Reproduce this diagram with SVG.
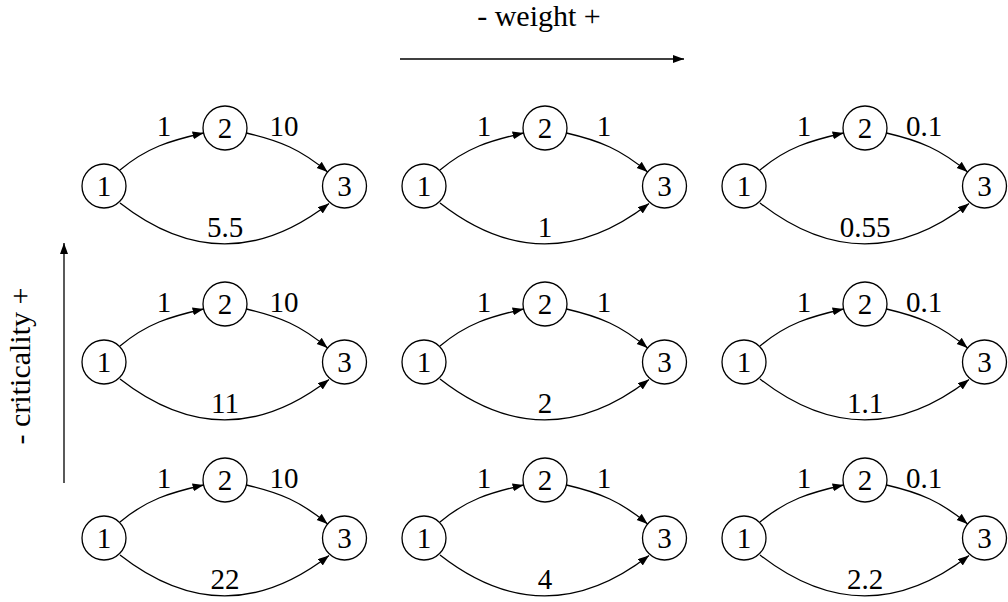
<svg xmlns="http://www.w3.org/2000/svg" width="1008" height="602" viewBox="0 0 1008 602">
<style>
text{font-size:29px;fill:#000;text-anchor:middle}
.ax{font-size:30px}
.node circle{fill:#fff;stroke:#000;stroke-width:1.3}
.edge{fill:none;stroke:#000;stroke-width:1.3;marker-end:url(#arr)}
.axis{fill:none;stroke:#000;stroke-width:1.3;marker-end:url(#arr)}
</style>
<defs>
<marker id="arr" markerUnits="userSpaceOnUse" markerWidth="12" markerHeight="9" refX="11" refY="4" orient="auto">
<path d="M0,0 L11,4 L0,8 z" fill="#000"/>
</marker>
</defs>
<rect width="1008" height="602" fill="#fff"/>
<g font-family="Liberation Serif, DejaVu Serif, serif">
<g id="axes">
<text class="ax" x="539" y="26">- weight +</text>
<path class="axis" d="M400,59 L684,59"/>
<text class="ax" transform="translate(30,366) rotate(-90)">- criticality +</text>
<path class="axis" d="M64,483 L64,243"/>
</g>
<g id="connectors">
<g transform="translate(104,186)"><path class="edge" d="M16,-16 C42.8,-38.5 65.5,-45.2 99.6,-53"/><path class="edge" d="M142.4,-53 C176.5,-45.1 196.8,-36.6 223.6,-14.1"/><path class="edge" d="M16,17 C86,71.7 155,71.7 225,17.5"/></g>
<g transform="translate(424,186)"><path class="edge" d="M16,-16 C42.8,-38.5 65.5,-45.2 99.6,-53"/><path class="edge" d="M142.4,-53 C176.5,-45.1 196.8,-36.6 223.6,-14.1"/><path class="edge" d="M16,17 C86,71.7 155,71.7 225,17.5"/></g>
<g transform="translate(744,186)"><path class="edge" d="M16,-16 C42.8,-38.5 65.5,-45.2 99.6,-53"/><path class="edge" d="M142.4,-53 C176.5,-45.1 196.8,-36.6 223.6,-14.1"/><path class="edge" d="M16,17 C86,71.7 155,71.7 225,17.5"/></g>
<g transform="translate(104,362)"><path class="edge" d="M16,-16 C42.8,-38.5 65.5,-45.2 99.6,-53"/><path class="edge" d="M142.4,-53 C176.5,-45.1 196.8,-36.6 223.6,-14.1"/><path class="edge" d="M16,17 C86,71.7 155,71.7 225,17.5"/></g>
<g transform="translate(424,362)"><path class="edge" d="M16,-16 C42.8,-38.5 65.5,-45.2 99.6,-53"/><path class="edge" d="M142.4,-53 C176.5,-45.1 196.8,-36.6 223.6,-14.1"/><path class="edge" d="M16,17 C86,71.7 155,71.7 225,17.5"/></g>
<g transform="translate(744,362)"><path class="edge" d="M16,-16 C42.8,-38.5 65.5,-45.2 99.6,-53"/><path class="edge" d="M142.4,-53 C176.5,-45.1 196.8,-36.6 223.6,-14.1"/><path class="edge" d="M16,17 C86,71.7 155,71.7 225,17.5"/></g>
<g transform="translate(104,538)"><path class="edge" d="M16,-16 C42.8,-38.5 65.5,-45.2 99.6,-53"/><path class="edge" d="M142.4,-53 C176.5,-45.1 196.8,-36.6 223.6,-14.1"/><path class="edge" d="M16,17 C86,71.7 155,71.7 225,17.5"/></g>
<g transform="translate(424,538)"><path class="edge" d="M16,-16 C42.8,-38.5 65.5,-45.2 99.6,-53"/><path class="edge" d="M142.4,-53 C176.5,-45.1 196.8,-36.6 223.6,-14.1"/><path class="edge" d="M16,17 C86,71.7 155,71.7 225,17.5"/></g>
<g transform="translate(744,538)"><path class="edge" d="M16,-16 C42.8,-38.5 65.5,-45.2 99.6,-53"/><path class="edge" d="M142.4,-53 C176.5,-45.1 196.8,-36.6 223.6,-14.1"/><path class="edge" d="M16,17 C86,71.7 155,71.7 225,17.5"/></g>
</g>
<g id="edge-labels">
<g transform="translate(104,186)"><text x="60" y="-50">1</text><text x="180" y="-50">10</text><text x="121" y="51">5.5</text></g>
<g transform="translate(424,186)"><text x="60" y="-50">1</text><text x="180" y="-50">1</text><text x="121" y="51">1</text></g>
<g transform="translate(744,186)"><text x="60" y="-50">1</text><text x="180" y="-50">0.1</text><text x="121" y="51">0.55</text></g>
<g transform="translate(104,362)"><text x="60" y="-50">1</text><text x="180" y="-50">10</text><text x="121" y="51">11</text></g>
<g transform="translate(424,362)"><text x="60" y="-50">1</text><text x="180" y="-50">1</text><text x="121" y="51">2</text></g>
<g transform="translate(744,362)"><text x="60" y="-50">1</text><text x="180" y="-50">0.1</text><text x="121" y="51">1.1</text></g>
<g transform="translate(104,538)"><text x="60" y="-50">1</text><text x="180" y="-50">10</text><text x="121" y="51">22</text></g>
<g transform="translate(424,538)"><text x="60" y="-50">1</text><text x="180" y="-50">1</text><text x="121" y="51">4</text></g>
<g transform="translate(744,538)"><text x="60" y="-50">1</text><text x="180" y="-50">0.1</text><text x="121" y="51">2.2</text></g>
</g>
<g id="nodes">
<g id="r1c1-n1" class="node"><circle cx="104" cy="186" r="22"/><text x="104" y="196">1</text></g>
<g id="r1c1-n2" class="node"><circle cx="225" cy="128" r="22"/><text x="225" y="138">2</text></g>
<g id="r1c1-n3" class="node"><circle cx="344.5" cy="186" r="22"/><text x="344.5" y="196">3</text></g>
<g id="r1c2-n1" class="node"><circle cx="424" cy="186" r="22"/><text x="424" y="196">1</text></g>
<g id="r1c2-n2" class="node"><circle cx="545" cy="128" r="22"/><text x="545" y="138">2</text></g>
<g id="r1c2-n3" class="node"><circle cx="664.5" cy="186" r="22"/><text x="664.5" y="196">3</text></g>
<g id="r1c3-n1" class="node"><circle cx="744" cy="186" r="22"/><text x="744" y="196">1</text></g>
<g id="r1c3-n2" class="node"><circle cx="865" cy="128" r="22"/><text x="865" y="138">2</text></g>
<g id="r1c3-n3" class="node"><circle cx="984.5" cy="186" r="22"/><text x="984.5" y="196">3</text></g>
<g id="r2c1-n1" class="node"><circle cx="104" cy="362" r="22"/><text x="104" y="372">1</text></g>
<g id="r2c1-n2" class="node"><circle cx="225" cy="304" r="22"/><text x="225" y="314">2</text></g>
<g id="r2c1-n3" class="node"><circle cx="344.5" cy="362" r="22"/><text x="344.5" y="372">3</text></g>
<g id="r2c2-n1" class="node"><circle cx="424" cy="362" r="22"/><text x="424" y="372">1</text></g>
<g id="r2c2-n2" class="node"><circle cx="545" cy="304" r="22"/><text x="545" y="314">2</text></g>
<g id="r2c2-n3" class="node"><circle cx="664.5" cy="362" r="22"/><text x="664.5" y="372">3</text></g>
<g id="r2c3-n1" class="node"><circle cx="744" cy="362" r="22"/><text x="744" y="372">1</text></g>
<g id="r2c3-n2" class="node"><circle cx="865" cy="304" r="22"/><text x="865" y="314">2</text></g>
<g id="r2c3-n3" class="node"><circle cx="984.5" cy="362" r="22"/><text x="984.5" y="372">3</text></g>
<g id="r3c1-n1" class="node"><circle cx="104" cy="538" r="22"/><text x="104" y="548">1</text></g>
<g id="r3c1-n2" class="node"><circle cx="225" cy="480" r="22"/><text x="225" y="490">2</text></g>
<g id="r3c1-n3" class="node"><circle cx="344.5" cy="538" r="22"/><text x="344.5" y="548">3</text></g>
<g id="r3c2-n1" class="node"><circle cx="424" cy="538" r="22"/><text x="424" y="548">1</text></g>
<g id="r3c2-n2" class="node"><circle cx="545" cy="480" r="22"/><text x="545" y="490">2</text></g>
<g id="r3c2-n3" class="node"><circle cx="664.5" cy="538" r="22"/><text x="664.5" y="548">3</text></g>
<g id="r3c3-n1" class="node"><circle cx="744" cy="538" r="22"/><text x="744" y="548">1</text></g>
<g id="r3c3-n2" class="node"><circle cx="865" cy="480" r="22"/><text x="865" y="490">2</text></g>
<g id="r3c3-n3" class="node"><circle cx="984.5" cy="538" r="22"/><text x="984.5" y="548">3</text></g>
</g>
</g>
</svg>
